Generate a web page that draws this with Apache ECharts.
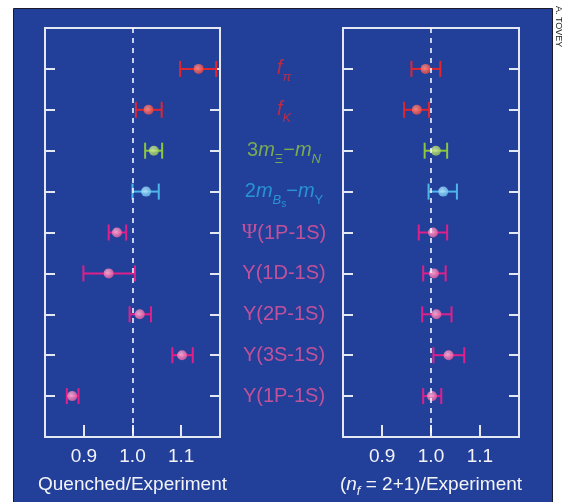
<!DOCTYPE html>
<html><head><meta charset="utf-8">
<script src="https://cdn.jsdelivr.net/npm/echarts@6/dist/echarts.min.js"></script>
<style>html,body{margin:0;padding:0;background:#fff}#c{width:567px;height:502px}</style>
</head><body><div id="c"></div>
<script>
// ---- data ----
var rows = [1, 2, 3, 4, 5, 6, 7, 8, 9];
var labels = [
  '{fi|f}{si|π}',
  '{fi|f}{si|K}',
  '{n|3}{fi|m}{s|Ξ}{n|−}{fi|m}{si|N}',
  '{n|2}{fi|m}{si|B}{ss|s}{n|−}{fi|m}{s|Υ}',
  '{psi|Ψ}{n|(1P-1S)}',
  '{n|Υ(1D-1S)}',
  '{n|Υ(2P-1S)}',
  '{n|Υ(3S-1S)}',
  '{n|Υ(1P-1S)}'
];
var groups = ['red', 'red', 'green', 'blue', 'pink', 'pink', 'pink', 'pink', 'pink'];
var quenchedValue = [1.136, 1.033, 1.044, 1.028, 0.968, 0.951, 1.015, 1.102, 0.876];
var quenchedLow   = [1.098, 1.007, 1.026, 1.000, 0.951, 0.899, 0.994, 1.082, 0.865];
var quenchedHigh  = [1.172, 1.060, 1.061, 1.054, 0.987, 1.005, 1.038, 1.124, 0.889];
var fullValue = [0.989, 0.971, 1.010, 1.025, 1.004, 1.006, 1.011, 1.036, 1.002];
var fullLow   = [0.960, 0.945, 0.987, 0.995, 0.975, 0.984, 0.982, 1.005, 0.984];
var fullHigh  = [1.019, 0.996, 1.033, 1.053, 1.033, 1.030, 1.042, 1.068, 1.021];
var xTicks = [0.9, 1.0, 1.1];
var xNames = ['{p|Quenched/Experiment}', '{p|(}{i|n}{sub|f}{p| = 2+1)/Experiment}'];

// ---- styles ----
var FONT = "'Liberation Sans', Arial, sans-serif";
var BLUE_BG = '#22409a';
var AX = '#f4f4f8';
var palette = {
  red:   {bar: '#e0262f', dot: '#f0463f', hi: '#ff9a90', text: '#e3262f'},
  green: {bar: '#8cc63f', dot: '#9ccf4f', hi: '#d8f0a8', text: '#8dc63f'},
  blue:  {bar: '#4cb6ea', dot: '#6cc6f2', hi: '#c8ecff', text: '#2aa8e2'},
  pink:  {bar: '#e0208a', dot: '#f05aa0', hi: '#ffc0dc', text: '#ea559b'}
};
function dotColor(g) {
  var p = palette[g];
  return {type: 'radial', x: 0.4, y: 0.4, r: 0.6,
    colorStops: [{offset: 0, color: p.hi}, {offset: 1, color: p.dot}]};
}

function errSeries(gi, low, high) {
  var data = rows.map(function (r, i) { return [low[i], high[i], r, i]; });
  return {
    type: 'custom', xAxisIndex: gi, yAxisIndex: gi * 2, z: 3,
    data: data,
    encode: {x: [0, 1], y: 2},
    renderItem: function (params, api) {
      var i = api.value(3);
      var y = api.value(2);
      var a = api.coord([api.value(0), y]);
      var b = api.coord([api.value(1), y]);
      var col = palette[groups[i]].bar;
      var h = 8;
      var st = {stroke: col, lineWidth: 2};
      return {type: 'group', children: [
        {type: 'line', shape: {x1: a[0], y1: a[1], x2: b[0], y2: b[1]}, style: st},
        {type: 'line', shape: {x1: a[0], y1: a[1] - h, x2: a[0], y2: a[1] + h}, style: st},
        {type: 'line', shape: {x1: b[0], y1: b[1] - h, x2: b[0], y2: b[1] + h}, style: st}
      ]};
    }
  };
}
function dotSeries(gi, vals) {
  return {
    type: 'scatter', xAxisIndex: gi, yAxisIndex: gi * 2, z: 4,
    symbolSize: 10,
    data: rows.map(function (r, i) {
      return {value: [vals[i], r], itemStyle: {color: dotColor(groups[i])}};
    }),
    markLine: {
      silent: true, symbol: 'none', label: {show: false},
      lineStyle: {color: '#ffffff', type: [5, 5], width: 1.5},
      data: [{xAxis: 1.0}]
    }
  };
}

var grids = [
  {left: 45, top: 28, width: 175, height: 409},
  {left: 343, top: 28, width: 176, height: 409},
  {left: 250, top: 28, width: 68, height: 409}
];
grids.forEach(function (g, k) {
  g.show = k < 2; g.borderColor = '#e4e8f2'; g.borderWidth = 2; g.backgroundColor = 'transparent';
  g.outerBoundsMode = 'none'; g.containLabel = false;
});

var nameRich = {
  p: {fontSize: 19, fontFamily: FONT, color: AX, verticalAlign: 'bottom', padding: [0, 0, 4, 0]},
  i: {fontSize: 19, fontFamily: FONT, fontStyle: 'italic', color: AX, verticalAlign: 'bottom', padding: [0, 0, 4, 0]},
  sub: {fontSize: 13, fontFamily: FONT, fontStyle: 'italic', color: AX, verticalAlign: 'bottom', padding: [0, 0, 0, 0]}
};
var xAxes = [0, 1].map(function (k) {
  return {
    type: 'value', gridIndex: k, min: 0.82, max: 1.18, position: 'bottom',
    axisLine: {show: false, onZero: false}, splitLine: {show: false},
    axisTick: {show: true, inside: true, length: 12, customValues: xTicks, lineStyle: {color: '#e4e8f2', width: 2}},
    axisLabel: {show: true, customValues: xTicks, color: AX, fontSize: 19, fontFamily: FONT, margin: 10,
      formatter: function (v) { return v.toFixed(1); }},
    name: xNames[k], nameLocation: 'middle', nameGap: 38,
    nameTextStyle: {color: AX, fontSize: 19, fontFamily: FONT, rich: nameRich}
  };
});
xAxes.push({type: 'value', gridIndex: 2, min: 0, max: 1, show: false});

var yAxes = [];
[0, 1].forEach(function (k) {
  ['left', 'right'].forEach(function (pos) {
    yAxes.push({
      type: 'value', gridIndex: k, position: pos, min: 0, max: 10, interval: 1, inverse: true,
      axisLine: {show: false, onZero: false}, splitLine: {show: false}, axisLabel: {show: false},
      axisTick: {show: true, inside: true, length: 10, lineStyle: {color: '#e4e8f2', width: 2}}
    });
  });
});
yAxes.push({type: 'value', gridIndex: 2, min: 0, max: 10, inverse: true, show: false});

// all tokens bottom-aligned; padding-bottom raises main text above subscripts
var richBase = {
  n:   {fontSize: 20, fontFamily: FONT, padding: [0, 0, 8, 0]},
  fi:  {fontSize: 20, fontFamily: FONT, fontStyle: 'italic', padding: [0, 0, 8, 0]},
  psi: {fontSize: 21, fontFamily: "'Liberation Serif', 'DejaVu Serif', serif", padding: [0, 0, 8, 0]},
  s:   {fontSize: 13, fontFamily: FONT, padding: [0, 0, 3, 0]},
  si:  {fontSize: 13, fontFamily: FONT, fontStyle: 'italic', padding: [0, 0, 3, 0]},
  ss:  {fontSize: 10, fontFamily: FONT, padding: [0, 0, 0, 0]}
};
function richFor(color) {
  var r = {};
  Object.keys(richBase).forEach(function (k) {
    r[k] = Object.assign({color: color, verticalAlign: 'bottom'}, richBase[k]);
  });
  return r;
}

var labelSeries = {
  type: 'scatter', xAxisIndex: 2, yAxisIndex: 4, symbolSize: 1, z: 5,
  itemStyle: {color: 'rgba(0,0,0,0)'},
  data: rows.map(function (r, i) {
    var c = palette[groups[i]].text;
    return {value: [0.5, r], label: {show: true, position: 'inside', formatter: labels[i],
      color: c, rich: richFor(c), align: 'center', verticalAlign: 'middle', offset: [0, 4]}};
  })
};

var chart = echarts.init(document.getElementById('c'), null, {renderer: 'canvas'});
chart.setOption({
  backgroundColor: '#ffffff',
  animation: false,
  graphic: [
    {type: 'rect', z: -10, shape: {x: 13.5, y: 8.5, width: 539, height: 500},
      style: {fill: BLUE_BG, stroke: '#1a1a2a', lineWidth: 1}},
    {type: 'text', x: 558, y: 6, rotation: -Math.PI / 2,
      style: {text: 'A. TOVEY', fill: '#222', fontSize: 9, fontFamily: FONT, align: 'left', verticalAlign: 'middle'}}
  ],
  grid: grids,
  xAxis: xAxes,
  yAxis: yAxes,
  series: [
    errSeries(0, quenchedLow, quenchedHigh),
    dotSeries(0, quenchedValue),
    errSeries(1, fullLow, fullHigh),
    dotSeries(1, fullValue),
    labelSeries
  ]
});
</script></body></html>
